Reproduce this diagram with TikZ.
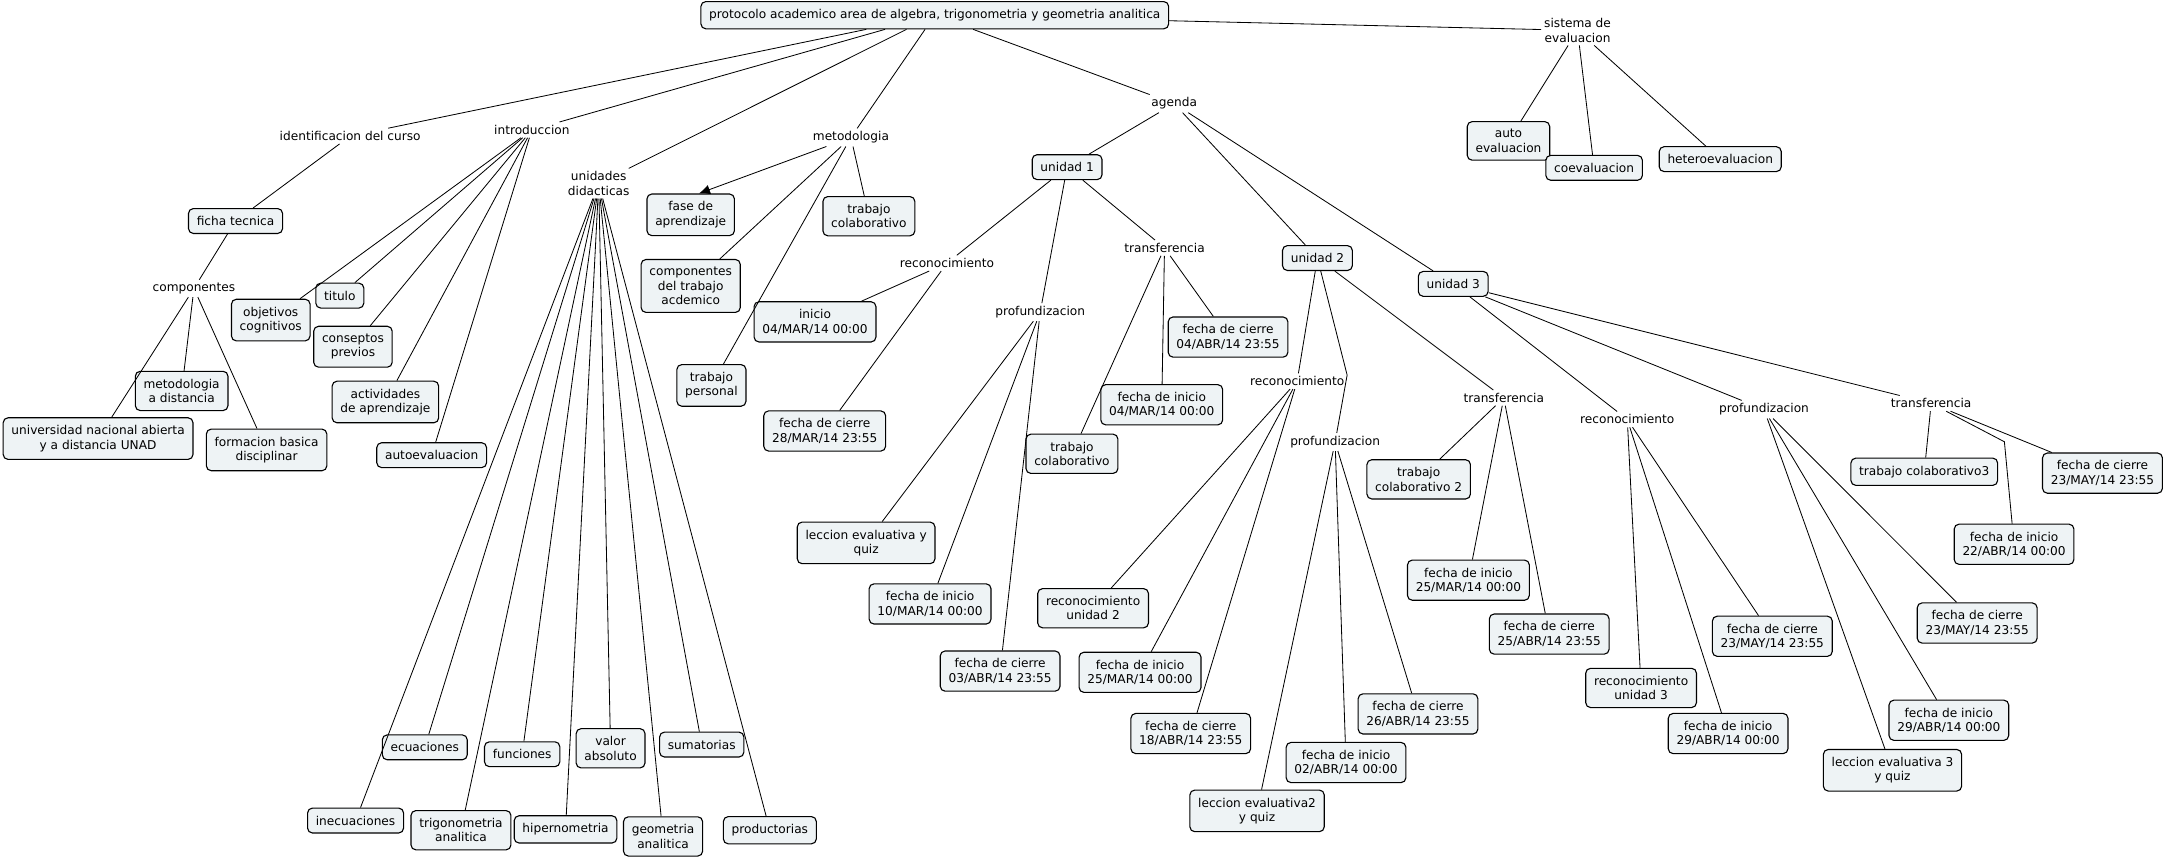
\documentclass[tikz,border=0pt]{standalone}
\usepackage{fontspec}
\setmainfont{DejaVu Sans}
\usepackage{tikz}
\usetikzlibrary{arrows.meta}
\tikzset{>=latex}
\definecolor{boxfill}{RGB}{238,243,245}

\begin{document}
\begin{tikzpicture}[x=1pt,y=-1pt,line width=0.6pt,
            every node/.style={font=\fontsize{8.8}{10.4}\selectfont,align=center},
            box/.style={draw,fill=boxfill,rounded corners=3.5pt,inner xsep=6pt,inner ysep=5.6pt,minimum height=18pt,line width=0.8pt},
            phrase/.style={inner sep=2pt}]
            \draw[draw=none,use as bounding box] (0,0) rectangle (1568,621.1);
            \node[box] (proto) at (676.7,11){protocolo academico area de algebra, trigonometria y geometria analitica};
            \node[phrase] (ident) at (253.5,98.5){identificacion del curso};
            \node[phrase] (intro) at (385,94){introduccion};
            \node[phrase] (unid) at (433.4,132.8){unidades\\didacticas};
            \node[phrase] (metod) at (616,99.5){metodologia};
            \node[phrase] (agenda) at (850,75){agenda};
            \node[phrase] (siste) at (1142,22){sistema de\\evaluacion};
            \node[box] (ficha) at (170.5,160){ficha tecnica};
            \node[phrase] (compo) at (140.4,208.8){componentes};
            \node[box] (univ) at (71,317.5){universidad nacional abierta\\y a distancia UNAD};
            \node[box] (metdist) at (131.5,283){metodologia\\a distancia};
            \node[box] (forma) at (193,325.7){formacion basica\\disciplinar};
            \node[box] (objet) at (196,231.7){objetivos\\cognitivos};
            \node[box] (titulo) at (246,214){titulo};
            \node[box] (consep) at (255.5,251){conseptos\\previos};
            \node[box] (activ) at (279,291){actividades\\de aprendizaje};
            \node[box] (autoev) at (312.5,329.5){autoevaluacion};
            \node[box] (inecu) at (257.4,594){inecuaciones};
            \node[box] (ecua) at (307.5,541){ecuaciones};
            \node[box] (trigo) at (333.7,601){trigonometria\\analitica};
            \node[box] (funci) at (378,546){funciones};
            \node[box] (hiper) at (409.4,600.4){hipernometria};
            \node[box] (valor) at (442,541.7){valor\\absoluto};
            \node[box] (geome) at (480,605.5){geometria\\analitica};
            \node[box] (sumat) at (508,539){sumatorias};
            \node[box] (produ) at (557.3,601){productorias};
            \node[box] (fase) at (500,155.5){fase de\\aprendizaje};
            \node[box] (comptr) at (500,207){componentes\\del trabajo\\acdemico};
            \node[box] (perso) at (515,279){trabajo\\personal};
            \node[box] (colab) at (629,156.5){trabajo\\colaborativo};
            \node[box] (u1) at (772.5,121){unidad 1};
            \node[box] (u2) at (953.7,186.8){unidad 2};
            \node[box] (u3) at (1052,205.5){unidad 3};
            \node[phrase] (rec1) at (685.5,190.5){reconocimiento};
            \node[phrase] (pro1) at (753,226){profundizacion};
            \node[phrase] (tra1) at (843,179.5){transferencia};
            \node[box] (ini1) at (590,233){inicio\\04/MAR/14 00:00};
            \node[box] (cie1) at (597,312){fecha de cierre\\28/MAR/14 23:55};
            \node[box] (lec1) at (627,393){leccion evaluativa y\\quiz};
            \node[box] (ini1p) at (673.3,437.2){fecha de inicio\\10/MAR/14 00:00};
            \node[box] (cie1p) at (724,485.8){fecha de cierre\\03/ABR/14 23:55};
            \node[box] (col1) at (776,328.5){trabajo\\colaborativo};
            \node[box] (ini1t) at (841,293){fecha de inicio\\04/MAR/14 00:00};
            \node[box] (cie1t) at (889,244){fecha de cierre\\04/ABR/14 23:55};
            \node[phrase] (rec2) at (939,276){reconocimiento};
            \node[phrase] (pro2) at (966.5,320){profundizacion};
            \node[phrase] (tra2) at (1088.6,288){transferencia};
            \node[box] (runi2) at (791.3,440.3){reconocimiento\\unidad 2};
            \node[box] (ini2r) at (825.3,486.7){fecha de inicio\\25/MAR/14 00:00};
            \node[box] (cie2r) at (862,531){fecha de cierre\\18/ABR/14 23:55};
            \node[box] (lec2) at (910,587){leccion evaluativa2\\y quiz};
            \node[box] (ini2p) at (974.4,552){fecha de inicio\\02/ABR/14 00:00};
            \node[box] (cie2p) at (1026.5,516.8){fecha de cierre\\26/ABR/14 23:55};
            \node[box] (col2) at (1027,347){trabajo\\colaborativo 2};
            \node[box] (ini2t) at (1063,420){fecha de inicio\\25/MAR/14 00:00};
            \node[box] (cie2t) at (1121.5,459){fecha de cierre\\25/ABR/14 23:55};
            \node[phrase] (rec3) at (1178,303.6){reconocimiento};
            \node[phrase] (pro3) at (1277,296.4){profundizacion};
            \node[phrase] (tra3) at (1398,292){transferencia};
            \node[box] (runi3) at (1188,498){reconocimiento\\unidad 3};
            \node[box] (ini3r) at (1251,531){fecha de inicio\\29/ABR/14 00:00};
            \node[box] (cie3r) at (1283,460.6){fecha de cierre\\23/MAY/14 23:55};
            \node[box] (lec3) at (1370,557.6){leccion evaluativa 3\\y quiz};
            \node[box] (ini3p) at (1410.8,521.4){fecha de inicio\\29/ABR/14 00:00};
            \node[box] (cie3p) at (1431.3,451){fecha de cierre\\23/MAY/14 23:55};
            \node[box] (col3) at (1393,341.5){trabajo colaborativo3};
            \node[box] (ini3t) at (1458,394){fecha de inicio\\22/ABR/14 00:00};
            \node[box] (cie3t) at (1522,342.5){fecha de cierre\\23/MAY/14 23:55};
            \node[box] (autoe) at (1092,102){auto\\evaluacion};
            \node[box] (coev) at (1154,121.5){coevaluacion};
            \node[box] (hetero) at (1245.3,115.2){heteroevaluacion};
            \coordinate (b2) at (975.2,271.5);
            \coordinate (b3) at (1451,319.8);
            \draw (proto) -- (ident);
            \draw (proto) -- (intro);
            \draw (proto) -- (unid);
            \draw (proto) -- (metod);
            \draw (proto) -- (agenda);
            \draw (proto) -- (siste);
            \draw (ident) -- (ficha);
            \draw (ficha) -- (compo);
            \draw (compo) -- (univ);
            \draw (compo) -- (metdist);
            \draw (compo) -- (forma);
            \draw (intro) -- (objet);
            \draw (intro) -- (titulo);
            \draw (intro) -- (consep);
            \draw (intro) -- (activ);
            \draw (intro) -- (autoev);
            \draw (unid) -- (inecu);
            \draw (unid) -- (ecua);
            \draw (unid) -- (trigo);
            \draw (unid) -- (funci);
            \draw (unid) -- (hiper);
            \draw (unid) -- (valor);
            \draw (unid) -- (geome);
            \draw (unid) -- (sumat);
            \draw (unid) -- (produ);
            \draw[->,>={Latex[length=8pt,width=7pt]}] (metod) -- ([xshift=6pt]fase.north);
            \draw (metod) -- (comptr);
            \draw (metod) -- (perso);
            \draw (metod) -- (colab);
            \draw (agenda) -- (u1);
            \draw (agenda) -- (u2);
            \draw (agenda) -- (u3);
            \draw (u1) -- (rec1);
            \draw (u1) -- (pro1);
            \draw (u1) -- (tra1);
            \draw (rec1) -- (ini1);
            \draw (rec1) -- (cie1);
            \draw (pro1) -- (lec1);
            \draw (pro1) -- (ini1p);
            \draw (pro1) -- (cie1p);
            \draw (tra1) -- (col1);
            \draw (tra1) -- (ini1t);
            \draw (tra1) -- (cie1t);
            \draw (u2) -- (rec2);
            \draw (u2) -- (b2) -- (pro2);
            \draw (u2) -- (tra2);
            \draw (rec2) -- (runi2);
            \draw (rec2) -- (ini2r);
            \draw (rec2) -- (cie2r);
            \draw (pro2) -- (lec2);
            \draw (pro2) -- (ini2p);
            \draw (pro2) -- (cie2p);
            \draw (tra2) -- (col2);
            \draw (tra2) -- (ini2t);
            \draw (tra2) -- (cie2t);
            \draw (u3) -- (rec3);
            \draw (u3) -- (pro3);
            \draw (u3) -- (tra3);
            \draw (rec3) -- (runi3);
            \draw (rec3) -- (ini3r);
            \draw (rec3) -- (cie3r);
            \draw (pro3) -- (lec3);
            \draw (pro3) -- (ini3p);
            \draw (pro3) -- (cie3p);
            \draw (tra3) -- (col3);
            \draw (tra3) -- (b3) -- (ini3t);
            \draw (tra3) -- (cie3t);
            \draw (siste) -- (autoe);
            \draw (siste) -- (coev);
            \draw (siste) -- (hetero);
        \end{tikzpicture}
\end{document}
